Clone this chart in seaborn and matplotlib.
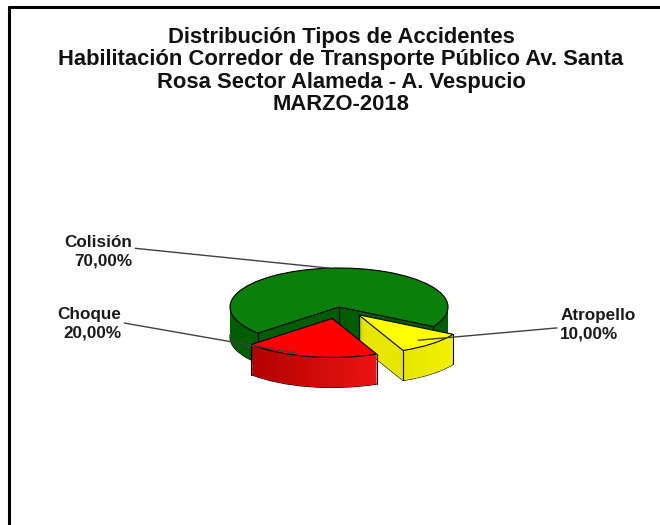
"""
3D 风格饼图：事故类型分布（MARZO-2018）
"""
import matplotlib
matplotlib.use('Agg')
import matplotlib.pyplot as plt
from matplotlib.lines import Line2D
from matplotlib.patches import Wedge
from matplotlib.colors import to_rgb
import seaborn as sns
import numpy as np

# 数据
categories = ['Colisión', 'Choque', 'Atropello']
percent = [70.0, 20.0, 10.0]
title_lines = ['Distribución Tipos de Accidentes',
               'Habilitación Corredor de Transporte Público Av. Santa',
               'Rosa Sector Alameda - A. Vespucio',
               'MARZO-2018']

top_colors = ['#0a800a', '#ff0000', '#ffff00']
# 侧面颜色：(暗端, 亮端)
side_colors = [('#005c00', '#005c00'), ('#b00000', '#ff1a1a'), ('#c4c400', '#f0f000')]
explode = [0.0, 0.30, 0.27]

sns.set_style('white')
plt.rcParams['font.family'] = ['Liberation Sans', 'DejaVu Sans']

fig = plt.figure(figsize=(6.6, 5.25), dpi=100)
ax = fig.add_axes([0, 0, 1, 1])

depth = 0.77      # 侧面厚度（y 数据单位）
n_layers = 36
levels = np.linspace(depth, 0, n_layers)

# 顶面
top_wedges, _ = ax.pie(percent, colors=top_colors, startangle=-30,
                       counterclock=True, explode=explode, radius=1.0,
                       wedgeprops=dict(linewidth=0.8, edgecolor='black'))
for k, w in enumerate(top_wedges):
    w.set_zorder((1 if k == 0 else 3) + 0.9)

# 侧面：按角度分条带，做左暗右亮的渐变
n_strips = 24
for k, w in enumerate(top_wedges):
    base = 1 if k == 0 else 3
    cx, cy = w.center
    dark, light = np.array(to_rgb(side_colors[k][0])), np.array(to_rgb(side_colors[k][1]))
    edges = np.linspace(w.theta1, w.theta2, n_strips + 1)
    for i, z in enumerate(levels):
        for j in range(n_strips):
            mid = np.deg2rad((edges[j] + edges[j + 1]) / 2)
            f = np.clip((np.cos(mid) + 0.8) / 1.6, 0, 1)
            col = dark + (light - dark) * f
            ax.add_patch(Wedge((cx, cy - z), w.r, edges[j], edges[j + 1] + 0.3,
                               facecolor=col, edgecolor='none',
                               zorder=base + i / n_layers * 0.5))
    # 底部轮廓
    ax.add_patch(Wedge((cx, cy - depth), w.r, w.theta1, w.theta2,
                       facecolor='none', edgecolor='black', lw=0.8,
                       zorder=base - 0.01))
    # 竖直棱线
    pts = [(cx, cy)]
    for th in (w.theta1, w.theta2):
        t = np.deg2rad(th)
        pts.append((cx + w.r * np.cos(t), cy + w.r * np.sin(t)))
    for px, py in pts:
        ax.plot([px, px], [py, py - depth], color='black', lw=0.8,
                zorder=base + 0.6)

# 视觉压扁：x 1 单位 = 109 px，y 1 单位 = 39 px
ax.set_aspect('auto')
ax.set_xlim(-339 / 109, (660 - 339) / 109)
ax.set_ylim(-218 / 39, (525 - 218) / 39)
ax.axis('off')


def edge_point(w, ang, r):
    cx, cy = w.center
    t = np.deg2rad(ang)
    return cx + r * np.cos(t), cy + r * np.sin(t)


label_cfg = [
    # (angle, radius, text pos, ha, relpos)
    (95, 1.0, (-1.90, 1.41), 'right', (1.0, 0.62)),
    (250, 0.95, (-2.0, -0.44), 'right', (1.0, 0.55)),
    (310, 0.85, (2.03, -0.46), 'left', (0.0, 0.42)),
]
for w, name, val, (ang, r, txt, ha, rel) in zip(top_wedges, categories, percent, label_cfg):
    ax.annotate(f'{name}\n{val:.2f}%'.replace('.', ','),
                xy=edge_point(w, ang, r), xytext=txt,
                ha=ha, va='center', fontsize=12.3, fontweight='bold',
                color='#1a1a1a', linespacing=1.3,
                arrowprops=dict(arrowstyle='-', color='#404040', lw=1.0,
                                relpos=rel, shrinkA=0, shrinkB=0),
                zorder=10)

fig.text(341 / 660, 1 - 71 / 525, '\n'.join(title_lines), ha='center', va='center',
         fontsize=15.8, fontweight='bold', linespacing=1.08, color='#111111')

# 外框（仅左、上）
fig.add_artist(Line2D([9 / 660, 9 / 660], [0, 1 - 7 / 525], color='black', lw=2.2))
fig.add_artist(Line2D([9 / 660, 1], [1 - 7 / 525, 1 - 7 / 525], color='black', lw=2.2))

plt.savefig('out.png', dpi=100)
plt.close()
